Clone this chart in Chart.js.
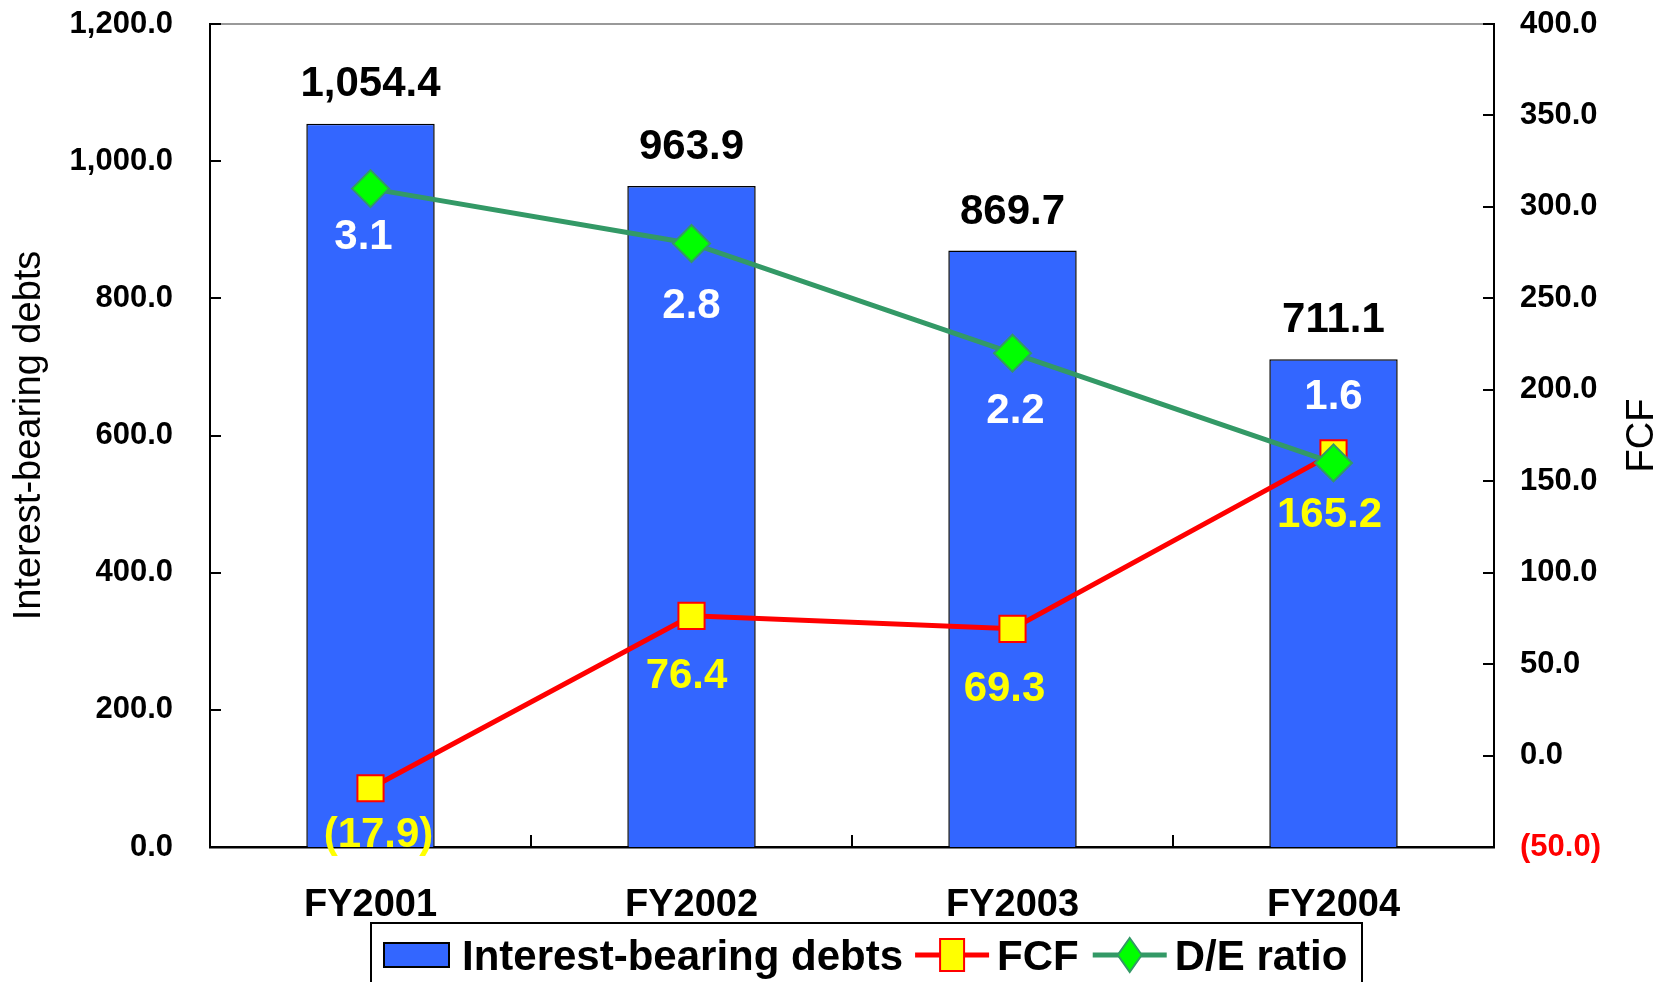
<!DOCTYPE html>
<html>
<head>
<meta charset="utf-8">
<script src="https://cdn.jsdelivr.net/npm/chart.js@4.4.1/dist/chart.umd.min.js"></script>
<style>
html,body{margin:0;padding:0;background:#fff;}
#wrap{width:1668px;height:982px;position:relative;}
</style>
</head>
<body>
<div id="wrap"><canvas id="c" width="1668" height="982"></canvas></div>
<script>
// ---- data ----
const categories = ['FY2001', 'FY2002', 'FY2003', 'FY2004'];
const debts = [1054.4, 963.9, 869.7, 711.1];
const fcf = [-17.9, 76.4, 69.3, 165.2];
const deRatio = [3.1, 2.8, 2.2, 1.6];
const leftTicks = [0, 200, 400, 600, 800, 1000, 1200];
const rightTicks = [-50, 0, 50, 100, 150, 200, 250, 300, 350, 400];
const deAxisRange = [-0.5, 4.0];
const seriesNames = ['Interest-bearing debts', 'FCF', 'D/E ratio'];
const axisTitles = ['Interest-bearing debts', 'FCF'];

const FONT = '"Liberation Sans", Arial, sans-serif';

function fmt(v) {
  const s = Math.abs(v).toLocaleString('en-US', {minimumFractionDigits: 1, maximumFractionDigits: 1});
  return v < 0 ? '(' + s + ')' : s;
}

// label placement (style, not data): offset from point centre
const labelStyle = [
  {color: '#000000', dx: [0, 0, 0, 0], dy: [-43, -42, -42, -42]},
  {color: '#FFFF00', dx: [8, -5, -8, -4], dy: [44, 57, 57, 59]},
  {color: '#FFFFFF', dx: [-7, 0, 3, 0], dy: [45, 59, 55, -69]}
];

const labelsPlugin = {
  id: 'valueLabels',
  afterDatasetsDraw(chart) {
    const ctx = chart.ctx;
    ctx.save();
    ctx.font = 'bold 42px ' + FONT;
    ctx.textAlign = 'center';
    ctx.textBaseline = 'alphabetic';
    chart.data.datasets.forEach((ds, di) => {
      const meta = chart.getDatasetMeta(di);
      const st = labelStyle[di];
      meta.data.forEach((el, i) => {
        const x = el.x + st.dx[i];
        const cy = el.y + st.dy[i];
        ctx.fillStyle = st.color;
        ctx.fillText(fmt(ds.data[i]), x, cy + 42 * 0.358);
      });
    });
    ctx.restore();
  }
};

const framePlugin = {
  id: 'frame',
  beforeDatasetsDraw(chart) {
    const ctx = chart.ctx;
    const a = chart.chartArea;
    const sx = chart.scales.x, sy = chart.scales.y, sy1 = chart.scales.y1;
    ctx.save();
    ctx.strokeStyle = '#999999';
    ctx.lineWidth = 2;
    ctx.beginPath();
    ctx.moveTo(a.left, a.top);
    ctx.lineTo(a.right, a.top);
    ctx.stroke();
    ctx.strokeStyle = '#000000';
    ctx.lineWidth = 2;
    ctx.beginPath();
    sy.ticks.forEach(t => {
      const y = Math.round(sy.getPixelForValue(t.value));
      ctx.moveTo(a.left, y); ctx.lineTo(a.left + 11, y);
    });
    sy1.ticks.forEach(t => {
      const y = Math.round(sy1.getPixelForValue(t.value));
      ctx.moveTo(a.right, y); ctx.lineTo(a.right - 11, y);
    });
    for (let i = 0; i < categories.length - 1; i++) {
      const x = Math.round((sx.getPixelForValue(i) + sx.getPixelForValue(i + 1)) / 2);
      ctx.moveTo(x, a.bottom); ctx.lineTo(x, a.bottom - 12);
    }
    ctx.stroke();
    ctx.restore();
  },
  afterDraw(chart) {
    const ctx = chart.ctx;
    const a = chart.chartArea;
    ctx.save();
    ctx.translate(1643, (a.top + a.bottom) / 2);
    ctx.rotate(-Math.PI / 2);
    ctx.font = '38px ' + FONT;
    ctx.fillStyle = '#000';
    ctx.textAlign = 'center';
    ctx.textBaseline = 'middle';
    ctx.fillText(axisTitles[1], 0, 0);
    ctx.restore();

    // legend
    ctx.save();
    const ds = chart.data.datasets;
    const boxL = 371, boxR = 1362, boxT = 923;
    ctx.strokeStyle = '#000';
    ctx.lineWidth = 2;
    ctx.beginPath();
    ctx.moveTo(boxL, 990); ctx.lineTo(boxL, boxT); ctx.lineTo(boxR, boxT); ctx.lineTo(boxR, 990);
    ctx.stroke();
    const LF = 42;
    ctx.font = 'bold ' + LF + 'px ' + FONT;
    ctx.textBaseline = 'alphabetic';
    ctx.textAlign = 'left';
    const cy = 955;
    let x = 384;
    ctx.fillStyle = ds[0].backgroundColor;
    ctx.fillRect(x, 943, 65, 24);
    ctx.lineWidth = 2;
    ctx.strokeStyle = '#000';
    ctx.strokeRect(x, 943, 65, 24);
    x += 65 + 13;
    ctx.fillStyle = '#000';
    ctx.fillText(ds[0].label, x, cy + LF * 0.358);
    x += ctx.measureText(ds[0].label).width + 12;
    [1, 2].forEach(k => {
      const d = ds[k];
      ctx.strokeStyle = d.borderColor;
      ctx.lineWidth = 5;
      ctx.beginPath();
      ctx.moveTo(x, cy); ctx.lineTo(x + 74, cy);
      ctx.stroke();
      const px = x + 37;
      ctx.fillStyle = d.pointBackgroundColor;
      ctx.strokeStyle = d.pointBorderColor;
      ctx.lineWidth = 2;
      ctx.beginPath();
      if (d.pointStyle === 'rect') {
        ctx.rect(px - 12, cy - 16, 24, 32);
      } else {
        ctx.moveTo(px, cy - 17); ctx.lineTo(px + 12, cy); ctx.lineTo(px, cy + 17); ctx.lineTo(px - 12, cy); ctx.closePath();
      }
      ctx.fill(); ctx.stroke();
      x += 74 + 8;
      ctx.fillStyle = '#000';
      ctx.fillText(d.label, x, cy + LF * 0.358);
      x += ctx.measureText(d.label).width + 14;
    });
    ctx.restore();
  }
};

function noPad(s) { s.paddingTop = 0; s.paddingBottom = 0; }

new Chart(document.getElementById('c'), {
  type: 'bar',
  data: {
    labels: categories,
    datasets: [
      {
        type: 'bar', label: seriesNames[0], data: debts, yAxisID: 'y',
        backgroundColor: '#3366FF', borderColor: '#000000', borderWidth: 1.5,
        barPercentage: 0.4, categoryPercentage: 1.0, order: 2
      },
      {
        type: 'line', label: seriesNames[1], data: fcf, yAxisID: 'y1',
        borderColor: '#FF0000', borderWidth: 5, tension: 0,
        pointStyle: 'rect', pointRadius: 18.5, pointHoverRadius: 18.5,
        pointBackgroundColor: '#FFFF00', pointBorderColor: '#FF0000', pointBorderWidth: 2,
        order: 1
      },
      {
        type: 'line', label: seriesNames[2], data: deRatio, yAxisID: 'y2',
        borderColor: '#339966', borderWidth: 5, tension: 0,
        pointStyle: 'rectRot', pointRadius: 18.5, pointHoverRadius: 18.5,
        pointBackgroundColor: '#00FF00', pointBorderColor: '#339966', pointBorderWidth: 2,
        order: 0
      }
    ]
  },
  options: {
    responsive: false,
    animation: false,
    events: [],
    layout: {padding: {top: 24, left: 0, right: 0, bottom: 0}},
    plugins: {legend: {display: false}, tooltip: {enabled: false}},
    scales: {
      x: {
        offset: true,
        grid: {display: false, drawTicks: false},
        border: {display: true, color: '#000', width: 2.5},
        ticks: {color: '#000', font: {family: FONT, size: 38, weight: 'bold'}, padding: 36, maxRotation: 0},
        afterFit(s) { s.height = 135; s.paddingLeft = 0; s.paddingRight = 0; }
      },
      y: {
        position: 'left',
        min: leftTicks[0], max: leftTicks[leftTicks.length - 1],
        afterBuildTicks(s) { s.ticks = leftTicks.map(v => ({value: v})); },
        grid: {display: false, drawTicks: false},
        border: {display: true, color: '#000', width: 2},
        ticks: {color: '#000', font: {family: FONT, size: 31, weight: 'bold'}, padding: 37, callback: v => fmt(v)},
        title: {display: true, text: axisTitles[0], color: '#000', font: {family: FONT, size: 38}, padding: {top: 7, bottom: 0}},
        afterFit(s) { s.width = 210; noPad(s); }
      },
      y1: {
        position: 'right',
        min: rightTicks[0], max: rightTicks[rightTicks.length - 1],
        afterBuildTicks(s) { s.ticks = rightTicks.map(v => ({value: v})); },
        grid: {display: false, drawTicks: false},
        border: {display: true, color: '#000', width: 2},
        ticks: {
          color: c => (c.tick && c.tick.value < 0 ? '#FF0000' : '#000000'),
          font: {family: FONT, size: 31, weight: 'bold'}, padding: 26, callback: v => fmt(v)
        },
        afterFit(s) { s.width = 174; noPad(s); }
      },
      y2: {
        display: false,
        min: deAxisRange[0], max: deAxisRange[1],
        afterFit(s) { noPad(s); }
      }
    }
  },
  plugins: [framePlugin, labelsPlugin]
});
</script>
</body>
</html>
